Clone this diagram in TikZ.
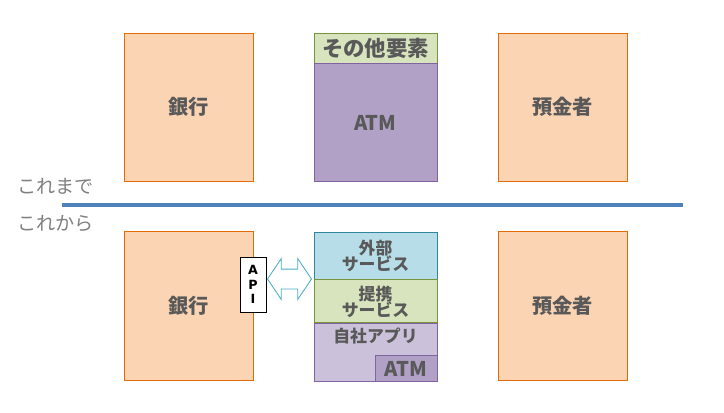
\documentclass[tikz,border=0pt]{standalone}
\usepackage{fontspec}
\setmainfont{Noto Sans CJK JP}
\newfontfamily\apifont{DejaVu Sans}
\usepackage{tikz}
\usetikzlibrary{shapes.arrows, positioning}
\definecolor{bankfill}{HTML}{FBD4B4}
\definecolor{bankline}{HTML}{E36C09}
\definecolor{atmfill}{HTML}{B2A1C7}
\definecolor{atmline}{HTML}{8064A2}
\definecolor{appfill}{HTML}{CCC1DA}
\definecolor{otherfill}{HTML}{D7E4BD}
\definecolor{otherline}{HTML}{77933C}
\definecolor{extfill}{HTML}{B7DEE8}
\definecolor{extline}{HTML}{31859C}
\definecolor{arrowline}{HTML}{4BACC6}
\definecolor{splitline}{HTML}{4F81BD}
\definecolor{labelink}{HTML}{595959}
\definecolor{eraink}{HTML}{7F7F7F}

\begin{document}
\begin{tikzpicture}[
        party/.style={draw=bankline, fill=bankfill, line width=0.7pt, minimum width=3.225cm, minimum height=3.7cm, font=\bfseries\Large, text=labelink, inner sep=0pt},
        layer/.style={line width=0.7pt, minimum width=3.075cm, font=\bfseries\large, text=labelink, align=center, inner sep=0pt},
        era/.style={font=\fontsize{13.6}{16}\selectfont, text=eraink, anchor=west, inner sep=0pt}
    ]
        \useasboundingbox (0,0) rectangle (18.1,-10.3);

        % これまで
        \node (bankold) [party] at (4.7125,-2.675) {銀行};
        \node (otherold) [layer, draw=otherline, fill=otherfill, minimum height=0.75cm, font=\bfseries\fontsize{15.2}{18}\selectfont] at (9.3875,-1.2) {その他要素};
        \node (atmold) [layer, draw=atmline, fill=atmfill, minimum height=2.95cm, below=0pt of otherold, font=\bfseries\Large] {ATM};
        \node (userold) [party] at (14.0625,-2.675) {預金者};

        % 区切り
        \coordinate (splitL) at (1.55,-5.125);
        \coordinate (splitR) at (17.075,-5.125);
        \draw [splitline, line width=2.8pt] (splitL) -- (splitR);
        \node (before) [era] at (0.425,-4.65) {これまで};
        \node (after) [era] at (0.425,-5.6) {これから};

        % これから
        \node (banknew) [party, minimum height=3.725cm] at (4.7125,-7.6375) {銀行};
        \node (api) [draw=black, fill=white, line width=0.6pt, minimum width=0.65cm, minimum height=1.375cm, font=\apifont\bfseries\small, align=center, inner sep=0pt] at (6.325,-7.1125) {A\\[-0.5pt]P\\[-0.5pt]I};
        \node (ext) [layer, draw=extline, fill=extfill, minimum height=1.175cm] at (9.3875,-6.3875) {外部\\[-2.5pt]サービス};
        \node (partner) [layer, draw=otherline, fill=otherfill, minimum height=1.075cm, below=0pt of ext] {提携\\[-2.5pt]サービス};
        \node (ownapp) [layer, draw=atmline, fill=appfill, minimum height=1.45cm, below=0pt of partner] {};
        \node (ownlabel) [font=\bfseries\large, text=labelink, inner sep=0pt] at (9.3875,-8.4) {自社アプリ};
        \node (atmnew) [draw=atmline, fill=atmfill, line width=0.7pt, minimum width=1.55cm, minimum height=0.65cm, font=\bfseries\Large, text=labelink, inner sep=0pt, anchor=south east] at (ownapp.south east) {ATM};
        \node (userNew) [party, minimum height=3.725cm] at (14.0625,-7.6375) {預金者};

        \node (link) [double arrow, draw=arrowline, fill=white, line width=0.6pt, minimum height=1.1cm, minimum width=1.0cm, inner xsep=0pt, inner ysep=0.2375cm, double arrow head extend=0.2625cm, double arrow tip angle=112] at (7.2375,-6.975) {};
    \end{tikzpicture}
\end{document}
